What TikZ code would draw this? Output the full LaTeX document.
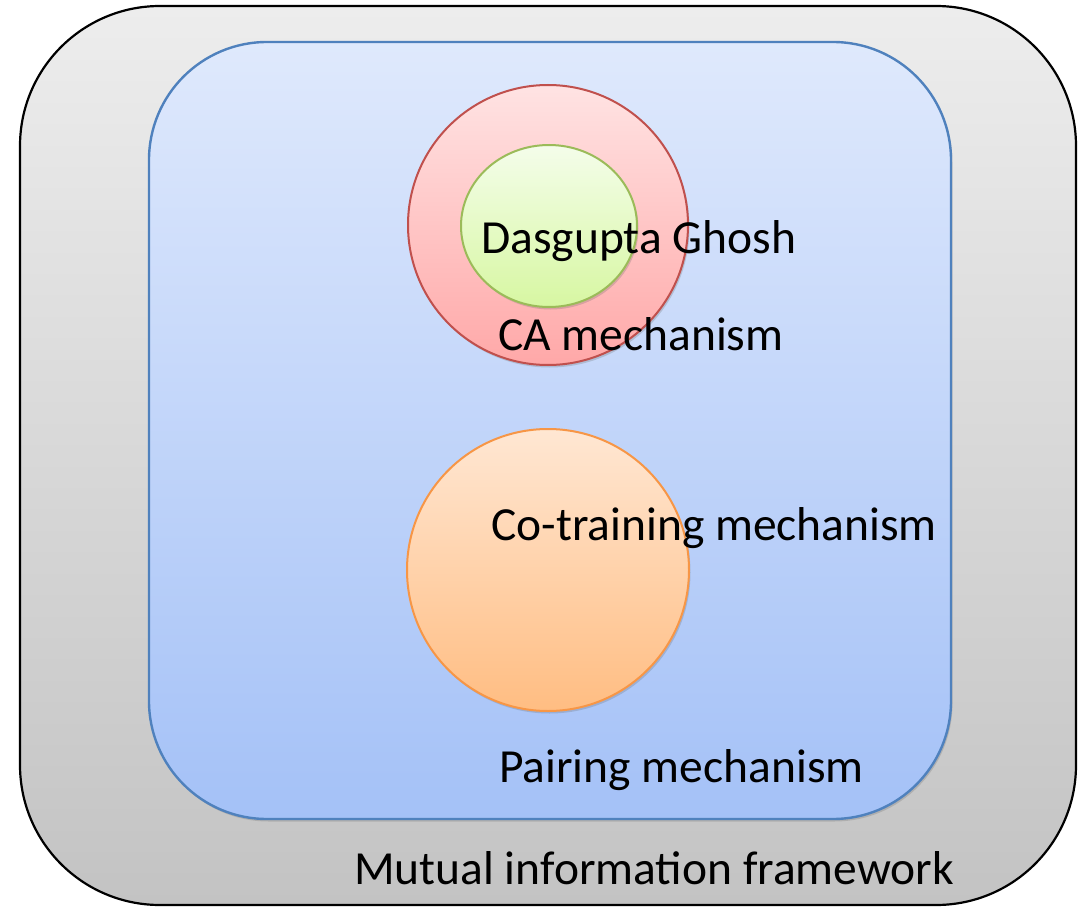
\documentclass[tikz,border=0pt]{standalone}
\usepackage{fontspec}
\setmainfont{Carlito}
\usetikzlibrary{shadows}
\definecolor{outerTop}{HTML}{EDEDED}
\definecolor{outerBot}{HTML}{C3C3C3}
\definecolor{blueTop}{HTML}{DFE9FC}
\definecolor{blueBot}{HTML}{A4C1F7}
\definecolor{blueLine}{HTML}{4F81BD}
\definecolor{redTop}{HTML}{FFE3E3}
\definecolor{redBot}{HTML}{FFA8A8}
\definecolor{redLine}{HTML}{C0504D}
\definecolor{greenTop}{HTML}{F4FDEA}
\definecolor{greenBot}{HTML}{D7F7A2}
\definecolor{greenLine}{HTML}{9BBB59}
\definecolor{orTop}{HTML}{FFE7D3}
\definecolor{orBot}{HTML}{FFBD82}
\definecolor{orLine}{HTML}{F79646}
\tikzset{
  lbl/.style={anchor=base west, inner sep=0pt, font=\fontsize{47.5}{57}\selectfont, text=black},
  softshadow/.style={drop shadow={shadow xshift=1.5pt, shadow yshift=-2.5pt, opacity=0.25, fill=black!60}}
}
\begin{document}
\begin{tikzpicture}[x=1pt,y=-1pt]
\useasboundingbox (0,0) rectangle (1088,907);
\fill[white] (0,0) rectangle (1088,907);
% outer frame
\path[rounded corners=140pt, top color=outerTop, bottom color=outerBot, draw=black, line width=2.2pt]
  (20,6) rectangle (1076,905);
% blue box
\path[rounded corners=118pt, top color=blueTop, bottom color=blueBot, draw=blueLine, line width=2.4pt, softshadow]
  (149,42) rectangle (951,819);
% red circle
\path[top color=redTop, bottom color=redBot, draw=redLine, line width=2pt, softshadow]
  (548,225) circle[radius=140pt];
% green ellipse
\path[top color=greenTop, bottom color=greenBot, draw=greenLine, line width=2pt, softshadow]
  (549,226) ellipse[x radius=88pt, y radius=81pt];
% orange circle
\path[top color=orTop, bottom color=orBot, draw=orLine, line width=2pt, softshadow]
  (548,570) circle[radius=141pt];
% labels
\node (dg) [lbl] at (481,253) {Dasgupta Ghosh};
\node (ca) [lbl] at (498,350) {CA mechanism};
\node (co) [lbl] at (491,540) {Co-training mechanism};
\node (pa) [lbl] at (499,782) {Pairing mechanism};
\node (mi) [lbl] at (354,884) {Mutual information framework};
\end{tikzpicture}
\end{document}
